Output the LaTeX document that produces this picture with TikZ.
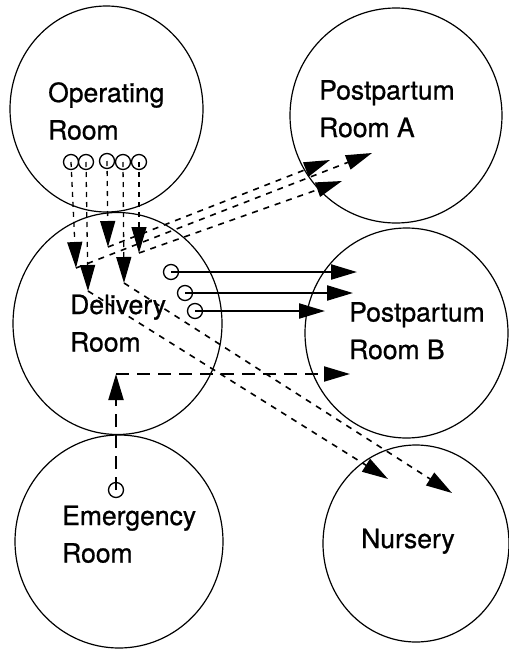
\documentclass[tikz,border=0pt]{standalone}
\usepackage{fontspec}
\setmainfont{TeX Gyre Heros}
\newfontfamily\roomfont{TeX Gyre Heros}[FakeBold=0.8]
\usetikzlibrary{arrows.meta,shapes.geometric}

\tikzset{
  room/.style={draw, ellipse, line width=1.2pt, inner sep=0pt},
  roomname/.style={anchor=base west, align=left, inner sep=0pt,
    font=\roomfont\fontsize{26.5}{37.5}\selectfont},
  token/.style={draw, circle, fill=white, line width=1.3pt, minimum size=15pt, inner sep=0pt},
  bigtip/.style={-{Triangle[length=26pt,width=15pt]}},
  transfer/.style={bigtip, line width=2.2pt},
  surgery/.style={bigtip, line width=1.3pt, dash pattern=on 5pt off 5pt},
  moveout/.style={bigtip, line width=1.6pt, dash pattern=on 6pt off 6pt},
  urgent/.style={bigtip, line width=2pt, dash pattern=on 13pt off 8pt}
}

\begin{document}
\begin{tikzpicture}[x=1pt, y=-1pt]
    \useasboundingbox (0,0) rectangle (509,651);

    % Rooms
    \node[room, minimum width=193pt, minimum height=206pt] (or) at (106.5,109) {};
    \node[room, minimum width=209pt, minimum height=222pt] (dr) at (117.5,323.5) {};
    \node[room, minimum width=208pt, minimum height=213pt] (er) at (119,541.5) {};
    \node[room, minimum width=212pt, minimum height=215pt] (pa) at (396,115.5) {};
    \node[room, minimum width=203pt, minimum height=210pt] (pb) at (406.5,333) {};
    \node[room, minimum width=186pt, minimum height=197pt] (nu) at (416,543.5) {};

    % Room names (base = last line)
    \node[roomname] (orname) at (48,139.5) {Operating\\Room};
    \node[roomname] (paname) at (319,137) {Postpartum\\Room A};
    \node[roomname] (drname) at (70,351.5) {Delivery\\Room};
    \node[roomname] (pbname) at (349,359) {Postpartum\\Room B};
    \node[roomname] (ername) at (62,562.5) {Emergency\\Room};
    \node[roomname] (nuname) at (361,548) {Nursery};

    % Patients
    \node[token] (o1) at (71,162) {};
    \node[token] (o2) at (86,162) {};
    \node[token] (o3) at (107,161) {};
    \node[token] (o4) at (123,162) {};
    \node[token] (o5) at (139,162) {};
    \node[token] (d1) at (171,272) {};
    \node[token] (d2) at (185,293) {};
    \node[token] (d3) at (195,311) {};
    \node[token] (e1) at (116,490) {};

    % Arrow ends
    \coordinate (in1) at (76,268);
    \coordinate (in2) at (88,291);
    \coordinate (in3) at (108,247);
    \coordinate (in4) at (124,283);
    \coordinate (in5) at (139,253);
    \coordinate (pa1) at (330,160);
    \coordinate (pa2) at (372,153);
    \coordinate (pa3) at (342,181);
    \coordinate (pb1) at (357,272);
    \coordinate (pb2) at (353,293);
    \coordinate (pb3) at (325,311);
    \coordinate (pb4) at (350,374);
    \coordinate (nu1) at (388,479);
    \coordinate (nu2) at (452,493);
    \coordinate (erin) at (116,374);

    % Operating room to delivery room
    \foreach \i in {1,...,5}
        \draw[surgery] (o\i.center) -- (in\i);

    % Delivery room to postpartum room A
    \draw[moveout] (in3) -- (pa1);
    \draw[moveout] (in1) -- (pa2);
    \draw[moveout] (in5) -- (pa3);

    % Delivery room to nursery
    \draw[moveout] (in2) -- (nu1);
    \draw[moveout] (in4) -- (nu2);

    % Delivery room to postpartum room B
    \draw[transfer] (d1.center) -- (pb1);
    \draw[transfer] (d2.center) -- (pb2);
    \draw[transfer] (d3.center) -- (pb3);

    % Emergency room via delivery room
    \draw[urgent] (e1.center) -- (erin);
    \draw[urgent] (erin) -- (pb4);
\end{tikzpicture}
\end{document}
